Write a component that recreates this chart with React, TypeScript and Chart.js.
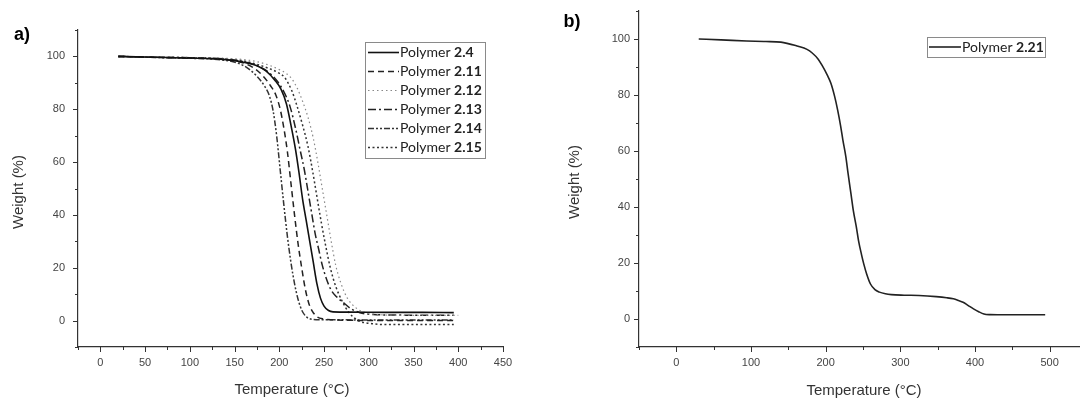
import React, { useEffect, useRef } from 'react';
import { Chart, registerables } from 'chart.js';

Chart.register(...registerables);

const TICK_FONT = '"Liberation Sans", Arial, sans-serif';
const LEGEND_FONT = 'Lato, "Noto Sans", sans-serif';

// ---------- Panel a) data ----------
const xTicksA = [0, 50, 100, 150, 200, 250, 300, 350, 400, 450];
const yTicksA = [0, 20, 40, 60, 80, 100];
const seriesNamesA = ['2.4', '2.11', '2.12', '2.13', '2.14', '2.15'];

const temp24 = [20, 60, 100, 140, 160, 175, 185, 195, 202, 208, 213, 218, 222, 226, 230, 234, 238, 242, 246, 250, 255, 260, 280, 320, 360, 395];
const weight24 = [100, 99.7, 99.4, 98.8, 97.8, 96.5, 94.5, 91, 87.5, 82, 74, 65, 56, 46, 38, 30, 22, 14, 8.5, 5.5, 3.8, 3.3, 3.2, 3.1, 3.1, 3];

const temp211 = [20, 60, 100, 140, 160, 172, 182, 190, 196, 201, 205, 209, 213, 217, 221, 225, 229, 233, 237, 242, 250, 260, 280, 320, 360, 395];
const weight211 = [100, 99.7, 99.4, 98.8, 97.5, 95.5, 92.5, 89, 85.5, 80, 73, 64, 52, 40, 29, 20, 12, 6.5, 3.5, 1.5, 0.6, 0.3, 0.1, 0, 0, 0];

const temp212 = [20, 60, 100, 140, 160, 175, 190, 200, 208, 214, 220, 226, 232, 238, 243, 248, 253, 258, 263, 269, 276, 285, 296, 310, 340, 370, 400];
const weight212 = [100, 99.8, 99.6, 99.3, 98.8, 98, 96.5, 95, 93.5, 91.5, 88, 83, 77, 69, 60, 50, 40, 30, 21, 14, 8.5, 5, 3, 2.3, 2, 2, 2];

const temp213 = [20, 60, 100, 140, 160, 175, 188, 198, 206, 212, 218, 223, 228, 232, 236, 240, 244, 248, 253, 258, 264, 271, 280, 290, 305, 330, 360, 395];
const weight213 = [100, 99.7, 99.5, 99, 98, 96.5, 94, 90.5, 86, 81, 73, 65, 57, 49, 41, 33, 27, 21, 15.5, 11.5, 9, 7, 4.5, 3, 2.3, 2.1, 2, 2];

const temp214 = [20, 60, 100, 140, 155, 165, 175, 183, 189, 193, 197, 201, 205, 209, 213, 217, 221, 225, 230, 236, 245, 260, 300, 350, 395];
const weight214 = [100, 99.6, 99.3, 98.5, 97.3, 95.5, 92.5, 89, 85, 79.5, 70, 57, 44, 32, 22, 14, 8, 4, 1.5, 0.5, 0.3, 0.3, 0.2, 0.2, 0.2];

const temp215 = [20, 60, 100, 140, 160, 175, 188, 198, 206, 214, 220, 226, 232, 237, 242, 247, 252, 257, 263, 270, 278, 288, 300, 320, 360, 395];
const weight215 = [100, 99.7, 99.5, 99, 98.3, 97, 95.5, 94, 92, 87, 81, 74, 66, 57, 47, 37, 28, 20, 13, 7.5, 3, 0, -1, -1.5, -1.5, -1.5];

// ---------- Panel b) data ----------
const xTicksB = [0, 100, 200, 300, 400, 500];
const yTicksB = [0, 20, 40, 60, 80, 100];
const seriesNamesB = ['2.21'];

const temp221 = [30, 60, 94, 120, 140, 163, 175, 182, 190, 196, 202, 207, 212, 216, 220, 223, 227, 230, 234, 237, 241, 244, 248, 251, 255, 260, 266, 272, 280, 288, 305, 325, 348, 362, 371, 378, 384, 391, 398, 405, 412, 420, 430, 460, 494];
const weight221 = [100, 99.7, 99.3, 99.1, 98.9, 97.4, 96.3, 95, 92.8, 90.2, 87.2, 84.2, 79.5, 74.7, 69, 64, 58, 52, 44.5, 38.8, 33, 28, 23, 19.7, 16, 12.5, 10.5, 9.6, 9, 8.7, 8.5, 8.4, 8, 7.6, 7.2, 6.6, 6, 4.8, 3.6, 2.6, 1.8, 1.55, 1.5, 1.5, 1.5];

const pts = (t: number[], w: number[]) => t.map((x, i) => ({ x, y: w[i] }));

const decoPlugin = {
  id: 'deco',
  afterDraw(chart: any, _args: any, o: any) {
    const ctx = chart.ctx as CanvasRenderingContext2D;
    const ca = chart.chartArea;
    const xs = chart.scales.x;
    const ys = chart.scales.y;
    ctx.save();
    ctx.strokeStyle = '#333';
    ctx.lineWidth = 1;
    ctx.setLineDash([]);
    for (let v = o.xFrom; v <= xs.max + 1e-6; v += o.xMinor) {
      const px = Math.round(xs.getPixelForValue(v)) + 0.5;
      const major = Math.abs(v / o.xMajor - Math.round(v / o.xMajor)) < 1e-6;
      const len = major ? 5 : 3;
      ctx.beginPath();
      ctx.moveTo(px, ca.bottom);
      ctx.lineTo(px, ca.bottom + len);
      ctx.stroke();
    }
    for (let v = o.yFrom; v <= ys.max + 1e-6; v += o.yMinor) {
      const py = Math.round(ys.getPixelForValue(v)) + 0.5;
      const major = Math.abs(v / o.yMajor - Math.round(v / o.yMajor)) < 1e-6;
      const len = major ? 5 : 3;
      ctx.beginPath();
      ctx.moveTo(ca.left, py);
      ctx.lineTo(ca.left - len, py);
      ctx.stroke();
    }
    ctx.fillStyle = '#333';
    ctx.font = `15px ${TICK_FONT}`;
    ctx.textAlign = 'center';
    ctx.textBaseline = 'middle';
    ctx.fillText('Temperature (°C)', o.xTitle[0], o.xTitle[1]);
    ctx.save();
    ctx.translate(o.yTitle[0], o.yTitle[1]);
    ctx.rotate(-Math.PI / 2);
    ctx.fillText('Weight (%)', 0, 0);
    ctx.restore();
    ctx.fillStyle = '#000';
    ctx.font = `bold 18px ${TICK_FONT}`;
    ctx.fillText(o.panel, o.panelPos[0], o.panelPos[1]);
    const L = o.legend;
    ctx.strokeStyle = '#8a8a8a';
    ctx.lineWidth = 1;
    ctx.strokeRect(L.x + 0.5, L.y + 0.5, L.w, L.h);
    chart.data.datasets.forEach((ds: any, i: number) => {
      const ry = L.firstY + i * L.rowH;
      ctx.strokeStyle = ds.borderColor;
      ctx.lineWidth = ds.borderWidth;
      ctx.setLineDash(ds.borderDash || []);
      ctx.beginPath();
      ctx.moveTo(L.s0, ry);
      ctx.lineTo(L.s1, ry);
      ctx.stroke();
      ctx.setLineDash([]);
      ctx.fillStyle = '#222';
      ctx.textAlign = 'left';
      ctx.textBaseline = 'middle';
      ctx.font = `14px ${LEGEND_FONT}`;
      const pre = 'Polymer ';
      ctx.fillText(pre, L.tx, ry);
      const w = ctx.measureText(pre).width;
      ctx.font = `bold 14px ${LEGEND_FONT}`;
      ctx.fillText(L.names[i], L.tx + w, ry);
    });
    ctx.restore();
  },
};

function makeScales(xmin: number, xmax: number, xTicks: number[], yTicks: number[], yWidth: number, yPad: number) {
  const tickFont = { family: TICK_FONT, size: 11 };
  return {
    x: {
      type: 'linear',
      min: xmin,
      max: xmax,
      afterFit: (s: any) => { s.height = 53; },
      afterBuildTicks: (s: any) => { s.ticks = xTicks.map((v) => ({ value: v })); },
      grid: { display: true, drawOnChartArea: false, drawTicks: true, tickLength: 5, color: 'rgba(0,0,0,0)' },
      border: { display: true, color: '#333', width: 1.2 },
      ticks: { padding: 4, color: '#444', font: tickFont, maxRotation: 0, autoSkip: false },
    },
    y: {
      type: 'linear',
      min: -10,
      max: 110,
      afterFit: (s: any) => { s.width = yWidth; },
      afterBuildTicks: (s: any) => { s.ticks = yTicks.map((v) => ({ value: v })); },
      grid: { display: true, drawOnChartArea: false, drawTicks: true, tickLength: 5, color: 'rgba(0,0,0,0)' },
      border: { display: true, color: '#333', width: 1.2 },
      ticks: { padding: yPad, color: '#444', font: tickFont, autoSkip: false },
    },
  };
}

export default function App() {
  const refA = useRef<HTMLCanvasElement>(null);
  const refB = useRef<HTMLCanvasElement>(null);

  useEffect(() => {
    const base = { fill: false, pointRadius: 0, cubicInterpolationMode: 'monotone' };
    const chartA = new Chart(refA.current as HTMLCanvasElement, {
      type: 'line',
      data: {
        datasets: [
          { ...base, data: pts(temp24, weight24), borderColor: '#111', borderWidth: 1.6, borderDash: [] },
          { ...base, data: pts(temp211, weight211), borderColor: '#222', borderWidth: 1.5, borderDash: [6, 4] },
          { ...base, data: pts(temp212, weight212), borderColor: '#888', borderWidth: 1.2, borderDash: [1.5, 3] },
          { ...base, data: pts(temp213, weight213), borderColor: '#222', borderWidth: 1.5, borderDash: [8, 3, 2, 3] },
          { ...base, data: pts(temp214, weight214), borderColor: '#333', borderWidth: 1.5, borderDash: [6, 2, 2, 2, 2, 2] },
          { ...base, data: pts(temp215, weight215), borderColor: '#333', borderWidth: 1.5, borderDash: [2, 2.5] },
        ] as any,
      },
      options: {
        animation: false,
        responsive: false,
        maintainAspectRatio: false,
        layout: { padding: { top: 30, right: 37, left: 0, bottom: 0 } },
        plugins: {
          legend: { display: false },
          tooltip: { enabled: false },
          deco: {
            xFrom: -25, xMinor: 25, xMajor: 50,
            yFrom: -10, yMinor: 10, yMajor: 20,
            xTitle: [292, 390], yTitle: [19, 192],
            panel: 'a)', panelPos: [22, 35],
            legend: { x: 365, y: 42, w: 120, h: 116, rowH: 19, firstY: 52.5, s0: 368, s1: 399, tx: 400, names: seriesNamesA },
          },
        } as any,
        scales: makeScales(-25, 450, xTicksA, yTicksA, 78, 8) as any,
      },
      plugins: [decoPlugin],
    });

    const chartB = new Chart(refB.current as HTMLCanvasElement, {
      type: 'line',
      data: {
        datasets: [
          { ...base, data: pts(temp221, weight221), borderColor: '#222', borderWidth: 1.6, borderDash: [] },
        ] as any,
      },
      options: {
        animation: false,
        responsive: false,
        maintainAspectRatio: false,
        layout: { padding: { top: 11, right: 13, left: 0, bottom: 0 } },
        plugins: {
          legend: { display: false },
          tooltip: { enabled: false },
          deco: {
            xFrom: -50, xMinor: 50, xMajor: 100,
            yFrom: -10, yMinor: 10, yMajor: 20,
            xTitle: [324, 391], yTitle: [35, 182],
            panel: 'b)', panelPos: [32, 22],
            legend: { x: 387, y: 37, w: 118, h: 20, rowH: 19, firstY: 47, s0: 389, s1: 421, tx: 422, names: seriesNamesB },
          },
        } as any,
        scales: makeScales(-50, 550, xTicksB, yTicksB, 99, 4) as any,
      },
      plugins: [decoPlugin],
    });

    return () => {
      chartA.destroy();
      chartB.destroy();
    };
  }, []);

  return (
    <div style={{ position: 'absolute', left: 0, top: 0, width: 1080, height: 400, overflow: 'hidden', background: '#fff' }}>
      <canvas ref={refA} width={540} height={400} style={{ position: 'absolute', left: 0, top: 0 }} />
      <canvas ref={refB} width={560} height={400} style={{ position: 'absolute', left: 540, top: 0 }} />
    </div>
  );
}
